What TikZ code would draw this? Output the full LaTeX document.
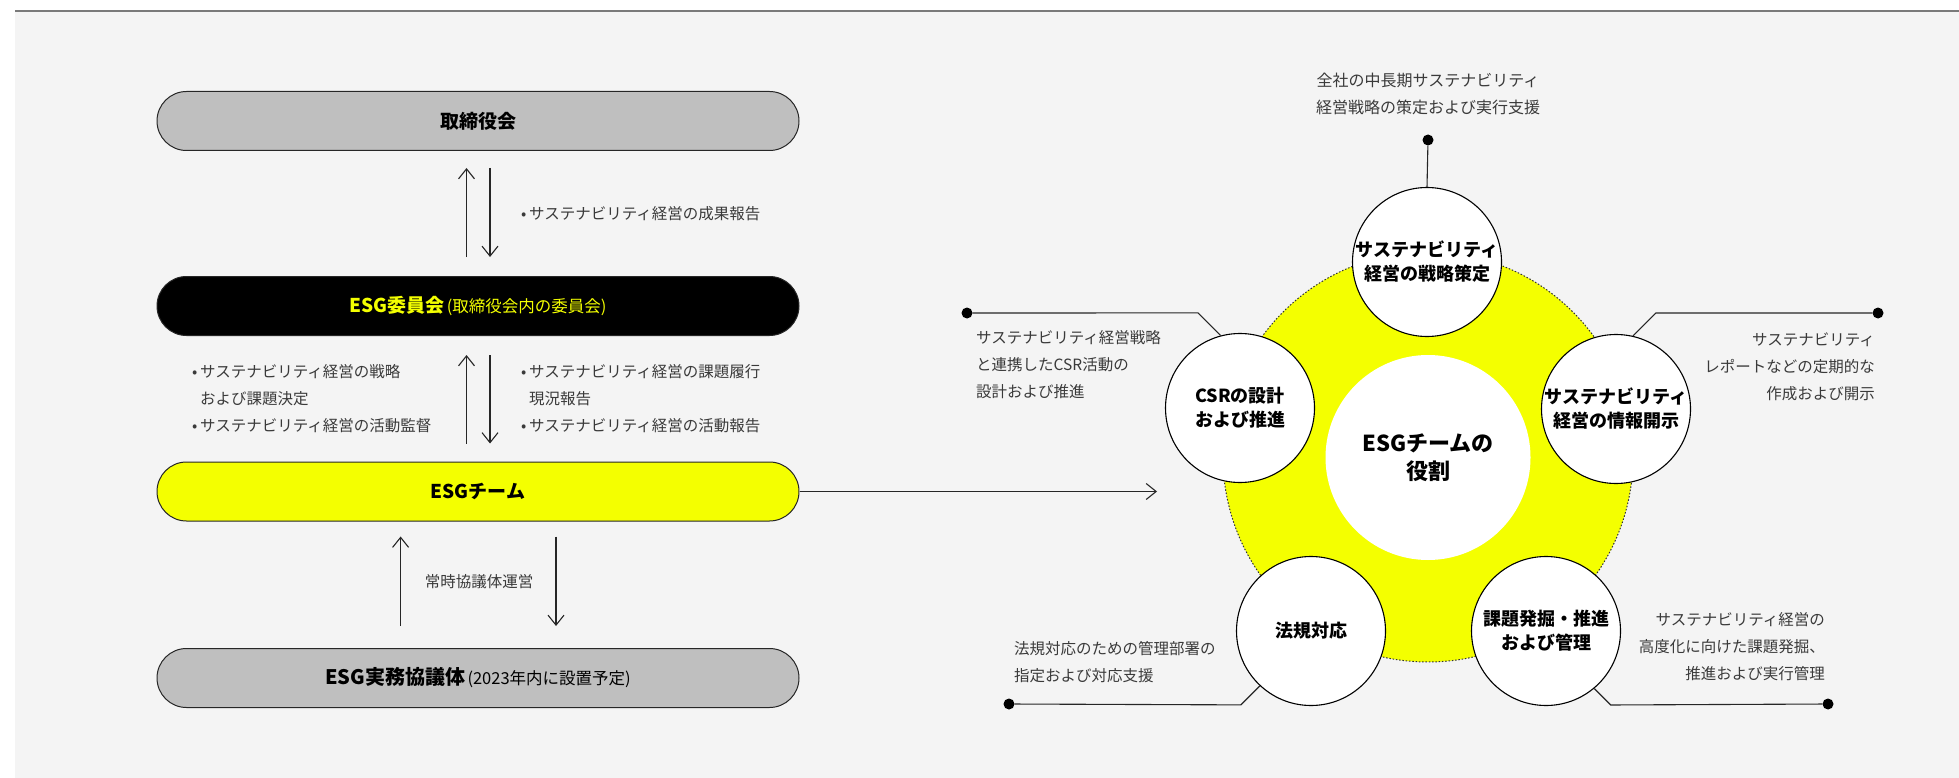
\documentclass[tikz,border=0pt]{standalone}
\usepackage{fontspec}
\setmainfont{Noto Sans CJK JP}
\usetikzlibrary{arrows.meta,calc}
\definecolor{panel}{HTML}{F4F4F4}
\definecolor{topline}{HTML}{7A7A7A}
\definecolor{esgyellow}{HTML}{F4FF00}
\definecolor{boxgray}{HTML}{BFBFBF}
\definecolor{txt}{HTML}{3A3A3A}
\newcommand{\bul}{\makebox[8pt][l]{•}}
\begin{document}
\begin{tikzpicture}[x=1pt,y=-1pt,
  pill/.style={draw=black!85, line width=1pt, rounded corners=29.5pt, minimum width=642pt, minimum height=59pt, inner sep=0pt},
  boxlabel/.style={font=\fontsize{19}{23}\selectfont\bfseries},
  desc/.style={font=\fontsize{15.5}{27}\selectfont, text=txt, inner sep=0pt},
  arr/.style={line width=1.1pt, draw=black!85, -{Straight Barb[length=10pt,width=16pt]}},
  role/.style={circle, draw=black, line width=1.1pt, fill=white, minimum size=149pt, inner sep=0pt, align=center, font=\fontsize{18}{24}\selectfont\bfseries},
  dotn/.style={circle, fill=black, minimum size=11pt, inner sep=0pt},
  lead/.style={line width=1.1pt, draw=black!85}
]
\useasboundingbox (0,0) rectangle (1959,778);
\fill[white] (0,0) rectangle (1959,778);
\fill[panel] (15,10) rectangle (1959,778);
\draw[topline, line width=2pt] (15,11) -- (1959,11);

% left boxes
\node[pill, fill=boxgray] (b1) at (478,121) {};
\node[boxlabel] at (b1.center) {取締役会};
\node[pill, fill=black] (b2) at (478,306) {};
\node[text=esgyellow] at (b2.center) {{\fontsize{19}{23}\selectfont\bfseries ESG委員会} {\fontsize{16.5}{20}\selectfont (取締役会内の委員会)}};
\node[pill, fill=esgyellow] (b3) at (478,491.5) {};
\node[boxlabel] at (b3.center) {ESGチーム};
\node[pill, fill=boxgray] (b4) at (478,678) {};
\node at (b4.center) {{\fontsize{20}{23}\selectfont\bfseries ESG実務協議体} {\fontsize{16.5}{20}\selectfont (2023年内に設置予定)}};

% arrows between boxes
\draw[arr] ([xshift=-11.5pt,yshift=19pt]b2.north) -- ([xshift=-11.5pt,yshift=-17pt]b1.south);
\draw[arr] ([xshift=12pt,yshift=-17pt]b1.south) -- ([xshift=12pt,yshift=19pt]b2.north);
\draw[arr] ([xshift=-11.5pt,yshift=18pt]b3.north) -- ([xshift=-11.5pt,yshift=-19pt]b2.south);
\draw[arr] ([xshift=12pt,yshift=-19pt]b2.south) -- ([xshift=12pt,yshift=18pt]b3.north);
\draw[arr] ([xshift=-77.4pt,yshift=22pt]b4.north) -- ([xshift=-77.4pt,yshift=-15pt]b3.south);
\draw[arr] ([xshift=78pt,yshift=-15pt]b3.south) -- ([xshift=78pt,yshift=22pt]b4.north);

% labels between boxes
\node[desc, anchor=west] (l1) at (521,214) {\bul サステナビリティ経営の成果報告};
\node[desc, anchor=west, align=left] (l2) at (192,399) {\bul サステナビリティ経営の戦略\\\hspace{8pt}および課題決定\\\bul サステナビリティ経営の活動監督};
\node[desc, anchor=west, align=left] (l3) at (521,399) {\bul サステナビリティ経営の課題履行\\\hspace{8pt}現況報告\\\bul サステナビリティ経営の活動報告};
\node[desc] (l4) at (479,582) {常時協議体運営};

% arrow to role diagram
\coordinate (tgt) at (1157,491.5);
\draw[arr] (b3.east) -- (tgt);

% role diagram
\fill[esgyellow] (1428,457) circle[radius=205pt];
\draw[black!80, line width=1pt, dash pattern=on 1.5pt off 1.8pt] (1428,457) circle[radius=205pt];
\node[circle, fill=white, minimum size=205pt, inner sep=0pt, align=center, font=\fontsize{22}{28}\selectfont\bfseries] (cen) at (1428,457.5) {ESGチームの\\役割};

\node[role] (c1) at (1427,262) {サステナビリティ\\経営の戦略策定};
\node[role] (c2) at (1240,408) {CSRの設計\\および推進};
\node[role] (c3) at (1616,409) {サステナビリティ\\経営の情報開示};
\node[role] (c4) at (1311,631) {法規対応};
\node[role] (c5) at (1546,631) {課題発掘・推進\\および管理};

% leader dots
\node[dotn] (d1) at (1428,140) {};
\node[dotn] (d2) at (967,313) {};
\node[dotn] (d3) at (1878,313) {};
\node[dotn] (d4) at (1009,704) {};
\node[dotn] (d5) at (1828,704) {};

\draw[lead] (c1.north) -- (d1);
\draw[lead] (c2.105) -- ++(-22.6,-22.6) -- (d2);
\draw[lead] (c3.77) -- ++(22.9,-22.9) -- (d3);
\draw[lead] (c4.227) -- ++(-19,19) -- (d4);
\draw[lead] (c5.310) -- ++(16.5,16.5) -- (d5);

% descriptions
\node[desc, align=center, font=\fontsize{16}{27}\selectfont] (t1) at (1428,93.5) {全社の中長期サステナビリティ\\経営戦略の策定および実行支援};
\node[desc, anchor=west, align=left] (t2) at (976,365) {サステナビリティ経営戦略\\と連携したCSR活動の\\設計および推進};
\node[desc, anchor=east, align=right] (t3) at (1875,366.5) {サステナビリティ\\レポートなどの定期的な\\作成および開示};
\node[desc, anchor=west, align=left] (t4) at (1014,662.5) {法規対応のための管理部署の\\指定および対応支援};
\node[desc, anchor=east, align=right] (t5) at (1825,646.5) {サステナビリティ経営の\\高度化に向けた課題発掘、\\推進および実行管理};
\end{tikzpicture}
\end{document}
